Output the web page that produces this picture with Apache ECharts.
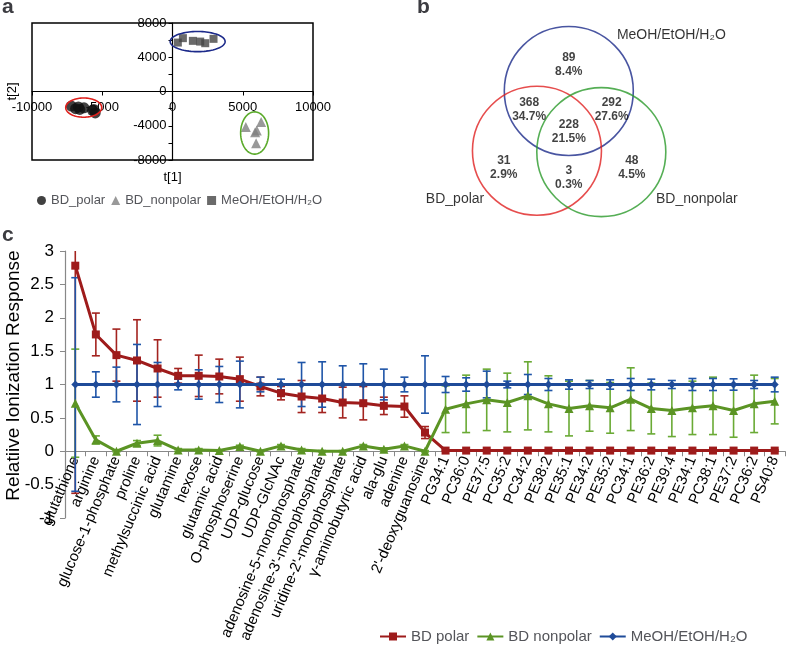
<!DOCTYPE html>
<html><head><meta charset="utf-8">
<script src="https://cdn.jsdelivr.net/npm/echarts@6/dist/echarts.min.js"></script>
<style>html,body{margin:0;padding:0;background:#fff}#c{width:787px;height:658px}</style>
</head><body><div id="c"></div>
<script>
// ---------- Panel a: score plot ----------
const polarScores = [[-7200,-1700],[-6900,-2000],[-6600,-2100],[-6300,-1900],[-6700,-1800],[-5700,-2200],[-5500,-2500],[-5600,-2100]];
const nonpolarScores = [[5220,-4160],[6310,-3575],[5880,-4750],[6000,-4550],[5950,-6045]];
const solventScores = [[380,5715],[740,6230],[1450,5915],[1970,5830],[2330,5640],[2920,6150]];
// cluster ellipses: centre x, centre y, radius x, radius y (data units)
const clusterEllipses = [[-6320,-1880,1280,1120],[1790,5830,1955,1176],[5845,-4845,995,2470]];

// ---------- Panel b: Venn ----------
const vennSetNames = ['MeOH/EtOH/H\u2082O','BD_polar','BD_nonpolar'];
const vennCounts = [89,368,292,228,31,3,48];
const vennPercents = ['8.4%','34.7%','27.6%','21.5%','2.9%','0.3%','4.5%'];

// ---------- Panel c: relative ionization ----------
const metabolites = ['glutathione','arginine','glucose-1-phosphate','proline','methylsuccinic acid','glutamine','hexose','glutamic acid','O-phosphoserine','UDP-glucose','UDP-GlcNAc','adenosine-5-monophosphate','adenosine-3\'-monophosphate','uridine-2\'-monophosphate','\u03b3-aminobutyric acid','ala-glu','adenine','2\'-deoxyguanosine','PG34:1','PC36:0','PE37:5','PC35:2','PC34:2','PE38:2','PE35:1','PE34:2','PE35:2','PC34:1','PE36:2','PE39:4','PE34:1','PC38:1','PE37:2','PC36:2','PS40:8'];
const bdPolar =    [2.78,1.75,1.44,1.36,1.24,1.13,1.13,1.12,1.08,0.97,0.87,0.82,0.79,0.73,0.72,0.68,0.67,0.28,0.01,0.01,0.01,0.01,0.01,0.01,0.01,0.01,0.01,0.01,0.01,0.01,0.01,0.01,0.01,0.01,0.01];
const bdPolarErr = [3.41,0.32,0.39,0.61,0.43,0.11,0.31,0.26,0.33,0.14,0.10,0.24,0.21,0.23,0.25,0.13,0.16,0.09,0.01,0.01,0.01,0.01,0.01,0.01,0.01,0.01,0.01,0.01,0.01,0.01,0.01,0.01,0.01,0.01,0.01];
const bdNonpolar =    [0.72,0.17,0.00,0.12,0.16,0.02,0.02,0.01,0.07,0.00,0.08,0.02,0.00,0.00,0.08,0.03,0.08,0.00,0.63,0.71,0.77,0.73,0.83,0.71,0.64,0.68,0.65,0.78,0.64,0.61,0.65,0.68,0.61,0.71,0.75];
const bdNonpolarErr = [0.81,0.06,0.01,0.04,0.08,0.02,0.02,0.01,0.02,0.01,0.02,0.02,0.01,0.01,0.02,0.02,0.02,0.01,0.35,0.43,0.46,0.44,0.51,0.42,0.41,0.38,0.38,0.47,0.38,0.39,0.40,0.43,0.40,0.43,0.34];
const solvent =    [1,1,1,1,1,1,1,1,1,1,1,1,1,1,1,1,1,1,1,1,1,1,1,1,1,1,1,1,1,1,1,1,1,1,1];
const solventErr = [1.60,0.19,0.26,0.60,0.33,0.08,0.22,0.27,0.35,0.11,0.08,0.33,0.34,0.28,0.31,0.23,0.11,0.43,0.12,0.10,0.20,0.05,0.15,0.09,0.07,0.06,0.07,0.09,0.08,0.06,0.09,0.09,0.085,0.06,0.11];

// ---------- layout / styles ----------
const FONT = 'Liberation Sans, Arial, sans-serif';
const ellipseColors = ['#e0201c','#1c2a8a','#5aaa2a'];
const vennColors = ['#1c2a8a','#e02020','#2a9a2a'];
const vennCircleCentres = [[0,0.62],[-0.49,-0.30],[0.50,-0.32]];
const vennRegionPos = [[0,1.03],[-0.61,0.33],[0.66,0.33],[0,-0.01],[-1.0,-0.56],[0,-0.72],[0.97,-0.56]];
const vennNamePos = [[0.74,1.48],[-1.75,-1.05],[1.97,-1.05]];
const YMIN = -1, YMAX = 3;
// panel a frame (px)
const A_LEFT = 32, A_TOP = 23, A_W = 281, A_H = 137;
// panel c plot (px)
const C_TOP = 251, C_H = 267;

function errBars(vals, errs, color){
  return {
    type:'custom', xAxisIndex:2, yAxisIndex:2, silent:true, z:2,
    data: vals.map((v,i)=>[i, v, errs[i]]),
    renderItem: function(params, api){
      const i = api.value(0), v = api.value(1), e = api.value(2);
      const lo = Math.max(v - e, YMIN), hi = Math.min(v + e, YMAX);
      const p0 = api.coord([i, lo]), p1 = api.coord([i, hi]);
      const st = {stroke: color, lineWidth: 1.6};
      const ch = [{type:'line', shape:{x1:p0[0],y1:p0[1],x2:p1[0],y2:p1[1]}, style:st}];
      const w = 4;
      if (v - e >= YMIN) ch.push({type:'line', shape:{x1:p0[0]-w,y1:p0[1],x2:p0[0]+w,y2:p0[1]}, style:st});
      if (v + e <= YMAX) ch.push({type:'line', shape:{x1:p1[0]-w,y1:p1[1],x2:p1[0]+w,y2:p1[1]}, style:st});
      return {type:'group', children: ch};
    }
  };
}

const chart = echarts.init(document.getElementById('c'));
const option = {
  animation:false,
  textStyle:{fontFamily:FONT, color:'#000'},
  title:[
    {text:'a', left:2, top:-3, padding:0, textStyle:{fontSize:21, fontWeight:'bold', fontFamily:FONT}},
    {text:'b', left:417, top:-3, padding:0, textStyle:{fontSize:21, fontWeight:'bold', fontFamily:FONT}},
    {text:'c', left:2, top:225, padding:0, textStyle:{fontSize:21, fontWeight:'bold', fontFamily:FONT}}
  ],
  grid:[
    {left:A_LEFT, top:A_TOP, width:A_W, height:A_H, show:true, borderColor:'#000', borderWidth:1.5, backgroundColor:'transparent', outerBoundsMode:'none', containLabel:false},
    {left:425.8, top:14.3, width:286, height:234, outerBoundsMode:'none', containLabel:false},
    {left:65, top:C_TOP, right:2, height:C_H, outerBoundsMode:'none', containLabel:false}
  ],
  legend:[
    {left:37, top:194, padding:0, itemWidth:9, itemHeight:9, itemGap:6, textStyle:{fontSize:13, fontFamily:FONT},
     data:['BD_polar','BD_nonpolar','MeOH/EtOH/H\u2082O ']},
    {left:379, top:629, padding:0, itemWidth:26, itemHeight:10, itemGap:7, textStyle:{fontSize:15, fontFamily:FONT},
     data:['BD polar','BD nonpolar','MeOH/EtOH/H\u2082O']}
  ],
  xAxis:[
    {gridIndex:0, type:'value', min:-10000, max:10000, interval:5000, position:'bottom', offset:-A_H/2,
     axisLine:{onZero:false, lineStyle:{color:'#000', width:1.2}}, axisTick:{show:true, length:4, lineStyle:{color:'#000'}},
     splitLine:{show:false}, axisLabel:{fontSize:13, color:'#000', margin:9, showMinLabel:true, showMaxLabel:true, formatter:v=>String(v)},
     name:'t[1]', nameLocation:'middle', nameGap:79, nameMoveOverlap:false, nameTextStyle:{fontSize:13, color:'#000'}},
    {gridIndex:1, type:'value', min:-2.2, max:2.2, show:false},
    {gridIndex:2, type:'category', data:metabolites, boundaryGap:true, position:'bottom',
     offset: -C_H * (0 - YMIN) / (YMAX - YMIN),
     axisLine:{onZero:false, lineStyle:{color:'#888', width:1.2}}, axisTick:{show:true, length:5, lineStyle:{color:'#888'}},
     axisLabel:{rotate:67, interval:0, fontSize:15, color:'#000', margin:6}}
  ],
  yAxis:[
    {gridIndex:0, type:'value', min:-8000, max:8000, interval:2000, position:'left', offset:-A_W/2,
     axisLine:{onZero:false, lineStyle:{color:'#000', width:1.2}}, axisTick:{show:true, length:4, lineStyle:{color:'#000'}},
     splitLine:{show:false}, axisLabel:{fontSize:13, color:'#000', margin:6, showMinLabel:true, showMaxLabel:true, formatter:v=> (v % 4000 === 0 ? String(v) : '')},
     name:'t[2]', nameLocation:'middle', nameGap:154, nameMoveOverlap:false, nameTextStyle:{fontSize:13, color:'#000'}},
    {gridIndex:1, type:'value', min:-1.8, max:1.8, show:false},
    {gridIndex:2, type:'value', min:YMIN, max:YMAX, interval:0.5,
     axisLine:{show:true, lineStyle:{color:'#888', width:1.2}}, axisTick:{show:true, length:5, lineStyle:{color:'#888'}},
     splitLine:{show:false}, axisLabel:{fontSize:17, color:'#000', margin:11, showMinLabel:true, showMaxLabel:true},
     name:'Relatiive Ionization Response', nameLocation:'middle', nameGap:42, nameMoveOverlap:false,
     nameTextStyle:{fontSize:19, color:'#000', padding:[0,0,0,18]}}
  ],
  series:[
    // panel a
    {name:'BD_polar', type:'scatter', xAxisIndex:0, yAxisIndex:0, data:polarScores, symbol:'circle', symbolSize:11, itemStyle:{color:'#111'}, z:3},
    {name:'BD_nonpolar', type:'scatter', xAxisIndex:0, yAxisIndex:0, data:nonpolarScores, symbol:'triangle', symbolSize:10, itemStyle:{color:'#7f7f7f'}, z:3},
    {name:'MeOH/EtOH/H\u2082O ', type:'scatter', xAxisIndex:0, yAxisIndex:0, data:solventScores, symbol:'rect', symbolSize:8, itemStyle:{color:'#454545'}, z:3},
    {type:'custom', xAxisIndex:0, yAxisIndex:0, silent:true, data:clusterEllipses, z:4,
     renderItem:function(params, api){
       const cx=api.value(0), cy=api.value(1), rx=api.value(2), ry=api.value(3);
       const pts=[];
       for(let k=0;k<90;k++){const t=k/90*2*Math.PI; pts.push(api.coord([cx+rx*Math.cos(t), cy+ry*Math.sin(t)]));}
       return {type:'polygon', shape:{points:pts}, style:{fill:'none', stroke:ellipseColors[params.dataIndex], lineWidth:1.6}};
     }},
    // panel b
    {type:'scatter', xAxisIndex:1, yAxisIndex:1, silent:true, data:vennCircleCentres.map((c,i)=>({value:c, itemStyle:{borderColor:vennColors[i]}})),
     symbol:'circle', symbolSize:129, itemStyle:{color:'rgba(0,0,0,0)', borderWidth:1.6}, z:1},
    {type:'scatter', xAxisIndex:1, yAxisIndex:1, silent:true, data:vennRegionPos, symbolSize:0, z:3,
     label:{show:true, position:'inside', fontSize:12, fontWeight:'bold', lineHeight:14, color:'#111', fontFamily:FONT,
       formatter:p=> vennCounts[p.dataIndex] + '\n' + vennPercents[p.dataIndex]}},
    {type:'scatter', xAxisIndex:1, yAxisIndex:1, silent:true, symbolSize:0, z:3,
     data:vennNamePos.map((c,i)=>({value:c, label:{position: i===0 ? 'right' : 'inside', distance:0}})),
     label:{show:true, fontSize:14, color:'#000', fontFamily:FONT, formatter:p=> vennSetNames[p.dataIndex]}},
    // panel c
    errBars(bdPolar, bdPolarErr, '#a3231f'),
    {name:'BD polar', type:'line', xAxisIndex:2, yAxisIndex:2, data:bdPolar, symbol:'rect', symbolSize:8, z:3,
     lineStyle:{width:3, color:'#9e1b1b'}, itemStyle:{color:'#9e1b1b'}},
    errBars(bdNonpolar, bdNonpolarErr, '#6aaa35'),
    {name:'BD nonpolar', type:'line', xAxisIndex:2, yAxisIndex:2, data:bdNonpolar, symbol:'triangle', symbolSize:9, z:4,
     lineStyle:{width:3, color:'#5b9424'}, itemStyle:{color:'#5b9424'}},
    errBars(solvent, solventErr, '#1f55a8'),
    {name:'MeOH/EtOH/H\u2082O', type:'line', xAxisIndex:2, yAxisIndex:2, data:solvent, symbol:'diamond', symbolSize:8, z:5,
     lineStyle:{width:3, color:'#1f4b99'}, itemStyle:{color:'#1f4b99'}}
  ]
};
chart.setOption(option);
</script></body></html>
